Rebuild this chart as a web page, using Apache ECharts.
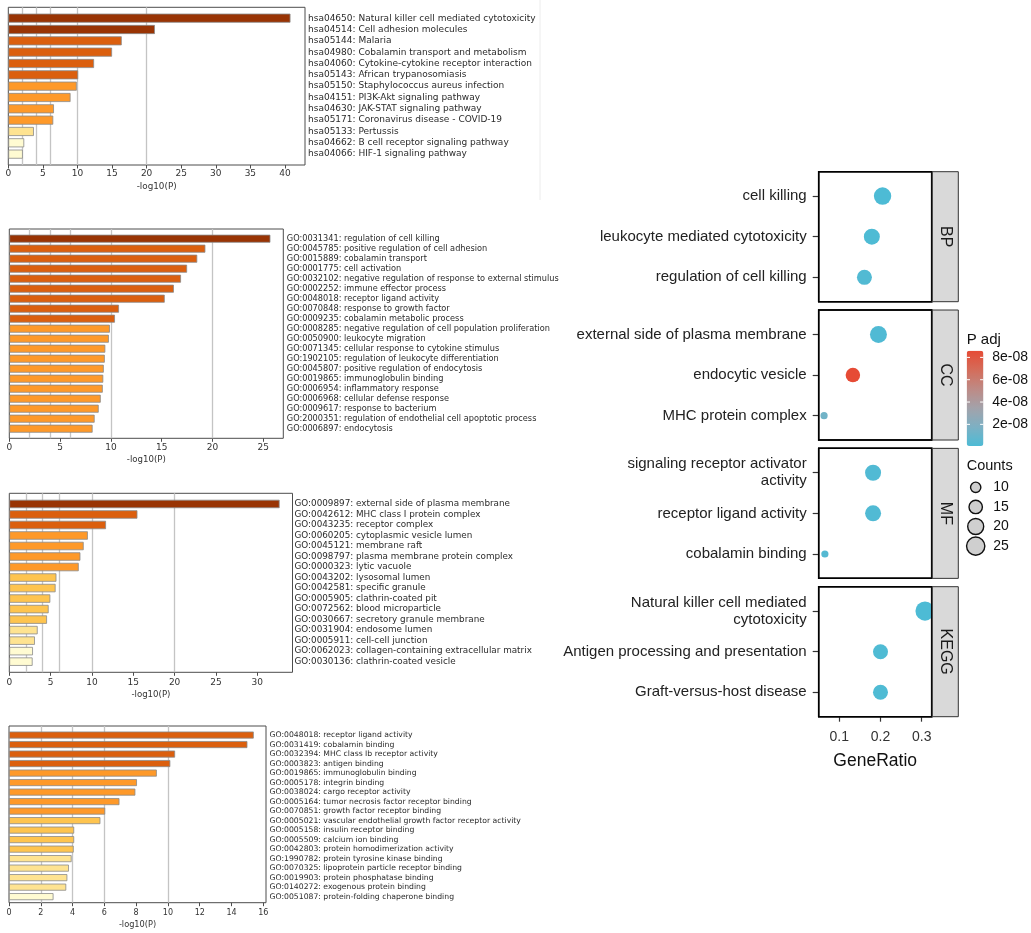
<!DOCTYPE html>
<html><head><meta charset="utf-8">
<script src="https://cdn.jsdelivr.net/npm/echarts@6/dist/echarts.min.js"></script>
<style>html,body{margin:0;padding:0;background:#fff}#c{width:1031px;height:933px}</style>
</head><body><div id="c"></div>
<script>
// ---------------- DATA ----------------
const keggTerms = [
  "hsa04650: Natural killer cell mediated cytotoxicity",
  "hsa04514: Cell adhesion molecules",
  "hsa05144: Malaria",
  "hsa04980: Cobalamin transport and metabolism",
  "hsa04060: Cytokine-cytokine receptor interaction",
  "hsa05143: African trypanosomiasis",
  "hsa05150: Staphylococcus aureus infection",
  "hsa04151: PI3K-Akt signaling pathway",
  "hsa04630: JAK-STAT signaling pathway",
  "hsa05171: Coronavirus disease - COVID-19",
  "hsa05133: Pertussis",
  "hsa04662: B cell receptor signaling pathway",
  "hsa04066: HIF-1 signaling pathway"
];
const keggLogP = [40.8, 21.2, 16.4, 15.0, 12.4, 10.1, 9.9, 9.0, 6.6, 6.5, 3.7, 2.3, 2.1];

const bpTerms = [
  "GO:0031341: regulation of cell killing",
  "GO:0045785: positive regulation of cell adhesion",
  "GO:0015889: cobalamin transport",
  "GO:0001775: cell activation",
  "GO:0032102: negative regulation of response to external stimulus",
  "GO:0002252: immune effector process",
  "GO:0048018: receptor ligand activity",
  "GO:0070848: response to growth factor",
  "GO:0009235: cobalamin metabolic process",
  "GO:0008285: negative regulation of cell population proliferation",
  "GO:0050900: leukocyte migration",
  "GO:0071345: cellular response to cytokine stimulus",
  "GO:1902105: regulation of leukocyte differentiation",
  "GO:0045807: positive regulation of endocytosis",
  "GO:0019865: immunoglobulin binding",
  "GO:0006954: inflammatory response",
  "GO:0006968: cellular defense response",
  "GO:0009617: response to bacterium",
  "GO:2000351: regulation of endothelial cell apoptotic process",
  "GO:0006897: endocytosis"
];
const bpLogP = [25.7, 19.3, 18.5, 17.5, 16.9, 16.2, 15.3, 10.8, 10.4, 9.9, 9.8, 9.45, 9.4, 9.3, 9.25, 9.2, 9.0, 8.8, 8.4, 8.2];

const ccTerms = [
  "GO:0009897: external side of plasma membrane",
  "GO:0042612: MHC class I protein complex",
  "GO:0043235: receptor complex",
  "GO:0060205: cytoplasmic vesicle lumen",
  "GO:0045121: membrane raft",
  "GO:0098797: plasma membrane protein complex",
  "GO:0000323: lytic vacuole",
  "GO:0043202: lysosomal lumen",
  "GO:0042581: specific granule",
  "GO:0005905: clathrin-coated pit",
  "GO:0072562: blood microparticle",
  "GO:0030667: secretory granule membrane",
  "GO:0031904: endosome lumen",
  "GO:0005911: cell-cell junction",
  "GO:0062023: collagen-containing extracellular matrix",
  "GO:0030136: clathrin-coated vesicle"
];
const ccLogP = [32.7, 15.5, 11.7, 9.5, 9.0, 8.6, 8.4, 5.7, 5.6, 4.96, 4.76, 4.56, 3.43, 3.1, 2.86, 2.82];

const mfTerms = [
  "GO:0048018: receptor ligand activity",
  "GO:0031419: cobalamin binding",
  "GO:0032394: MHC class Ib receptor activity",
  "GO:0003823: antigen binding",
  "GO:0019865: immunoglobulin binding",
  "GO:0005178: integrin binding",
  "GO:0038024: cargo receptor activity",
  "GO:0005164: tumor necrosis factor receptor binding",
  "GO:0070851: growth factor receptor binding",
  "GO:0005021: vascular endothelial growth factor receptor activity",
  "GO:0005158: insulin receptor binding",
  "GO:0005509: calcium ion binding",
  "GO:0042803: protein homodimerization activity",
  "GO:1990782: protein tyrosine kinase binding",
  "GO:0070325: lipoprotein particle receptor binding",
  "GO:0019903: protein phosphatase binding",
  "GO:0140272: exogenous protein binding",
  "GO:0051087: protein-folding chaperone binding"
];
const mfLogP = [15.4, 15.0, 10.45, 10.15, 9.3, 8.05, 7.95, 6.95, 6.05, 5.75, 4.1, 4.1, 4.07, 3.94, 3.77, 3.67, 3.6, 2.8];

const logPThresholds = [2, 4, 6, 10, 20];

// Dot plot data
const dotGroups = ["BP", "CC", "MF", "KEGG"];
const bpDotTerms = ["cell killing", "leukocyte mediated cytotoxicity", "regulation of cell killing"];
const bpDotRatio = [0.205, 0.179, 0.161];
const bpDotCount = [23, 20, 18];
const bpDotPadj = [6e-10, 1.1e-9, 2.5e-9];

const ccDotTerms = ["external side of plasma membrane", "endocytic vesicle", "MHC protein complex"];
const ccDotRatio = [0.195, 0.133, 0.063];
const ccDotCount = [22, 17, 6];
const ccDotPadj = [1.8e-9, 8.6e-8, 1.35e-8];

const mfDotTerms = ["signaling receptor activator\nactivity", "receptor ligand activity", "cobalamin binding"];
const mfDotRatio = [0.182, 0.182, 0.065];
const mfDotCount = [20, 20, 6];
const mfDotPadj = [2.0e-9, 2.0e-9, 3.5e-9];

const keggDotTerms = ["Natural killer cell mediated\ncytotoxicity", "Antigen processing and presentation", "Graft-versus-host disease"];
const keggDotRatio = [0.308, 0.2, 0.2];
const keggDotCount = [27, 18, 18];
const keggDotPadj = [6e-10, 1.2e-9, 1.2e-9];

const geneRatioTicks = [0.1, 0.2, 0.3];
const padjTicks = [2e-8, 4e-8, 6e-8, 8e-8];
const padjTickLabels = ["2e-08", "4e-08", "6e-08", "8e-08"];
const countLegend = [10, 15, 20, 25];

// ---------------- LAYOUT / STYLE ----------------
const LEFT_FONT = "'DejaVu Sans', sans-serif";
const RIGHT_FONT = "'Liberation Sans', Arial, sans-serif";

const barPanels = [
  {terms: keggTerms, vals: keggLogP, left: 8.3, right: 305, top: 7.3, bottom: 165, xmax: 42.9, step: 5,
   bandTop: 12.5, bandBottom: 159.8, labelFont: 9, tickFont: 9, labelMargin: 3, tickMargin: 4.5, nameGap: 17, nameFont: 8.8, barW: '80%'},
  {terms: bpTerms, vals: bpLogP, left: 9.3, right: 283.3, top: 229, bottom: 438.3, xmax: 26.97, step: 5,
   bandTop: 233.7, bandBottom: 433.7, labelFont: 8.2, tickFont: 9, labelMargin: 3.5, tickMargin: 4.5, nameGap: 17, nameFont: 8.6, barW: '80%'},
  {terms: ccTerms, vals: ccLogP, left: 9.3, right: 292.5, top: 493.3, bottom: 672.3, xmax: 34.26, step: 5,
   bandTop: 498.7, bandBottom: 666.9, labelFont: 8.8, tickFont: 9, labelMargin: 2, tickMargin: 5.5, nameGap: 18, nameFont: 8.6, barW: '80%'},
  {terms: mfTerms, vals: mfLogP, left: 9, right: 266, top: 726, bottom: 902.7, xmax: 16.17, step: 2,
   bandTop: 730.3, bandBottom: 901.4, labelFont: 7.7, tickFont: 8, labelMargin: 3.6, tickMargin: 6, nameGap: 18, nameFont: 8.2, barW: '74%'}
];

function barColor(v) {
  if (v > 20) return '#993404';
  if (v > 10) return '#DB5F0E';
  if (v > 6) return '#FE9929';
  if (v > 4) return '#FEC44F';
  if (v > 3) return '#FEE391';
  return '#FFFBD2';
}

const dotPanels = [
  {name: dotGroups[0], terms: bpDotTerms, ratio: bpDotRatio, count: bpDotCount, padj: bpDotPadj},
  {name: dotGroups[1], terms: ccDotTerms, ratio: ccDotRatio, count: ccDotCount, padj: ccDotPadj},
  {name: dotGroups[2], terms: mfDotTerms, ratio: mfDotRatio, count: mfDotCount, padj: mfDotPadj},
  {name: dotGroups[3], terms: keggDotTerms, ratio: keggDotRatio, count: keggDotCount, padj: keggDotPadj}
];
const DOT = {left: 818.7, width: 113, top0: 171.7, step: 138.33, height: 130, xmin: 0.05, xmax: 0.3243,
             stripX: 932.3, stripW: 26};
function sizeFor(c) { return 4.35 * Math.sqrt(c) - 3.46; }

const allPadj = dotPanels.reduce((a, p) => a.concat(p.padj), []);
const pMin = Math.min.apply(null, allPadj);
const pMax = Math.max.apply(null, allPadj);
const CB = {left: 966.7, top: 350.7, w: 16.7, h: 95.3};

// ---------------- BUILD ----------------
const grids = [], xAxes = [], yAxes = [], series = [], graphics = [];

barPanels.forEach(p => {
  const ticks = [];
  for (let v = 0; v <= p.xmax + 1e-9; v += p.step) ticks.push(v);
  const gF = grids.length;
  grids.push({left: p.left, top: p.top, width: p.right - p.left, height: p.bottom - p.top,
    show: true, borderColor: '#4d4d4d', borderWidth: 1, backgroundColor: 'transparent'});
  xAxes.push({gridIndex: gF, type: 'value', min: 0, max: p.xmax, interval: p.step,
    axisLine: {show: false},
    axisTick: {show: true, length: 3.5, lineStyle: {color: '#4d4d4d', width: 1}, customValues: ticks},
    axisLabel: {customValues: ticks, fontSize: p.tickFont, color: '#333', fontFamily: LEFT_FONT, margin: p.tickMargin,
      formatter: v => (Math.abs(v / p.step - Math.round(v / p.step)) < 1e-6 ? String(Math.round(v)) : '')},
    splitLine: {show: false},
    name: '-log10(P)', nameLocation: 'middle', nameGap: p.nameGap,
    nameTextStyle: {fontSize: p.nameFont, color: '#333', fontFamily: LEFT_FONT}});
  yAxes.push({gridIndex: gF, type: 'value', min: 0, max: 1, show: false});
  series.push({type: 'scatter', xAxisIndex: gF, yAxisIndex: gF, data: [], silent: true,
    markLine: {silent: true, symbol: ['none', 'none'], z: 1, animation: false,
      label: {show: false}, emphasis: {disabled: true},
      lineStyle: {color: '#c4c4c4', width: 1.3, type: 'solid'},
      data: logPThresholds.filter(t => t < p.xmax).map(t => ({xAxis: t}))}});

  const gB = grids.length;
  grids.push({left: p.left, top: p.bandTop, width: p.right - p.left, height: p.bandBottom - p.bandTop, show: false});
  xAxes.push({gridIndex: gB, type: 'value', min: 0, max: p.xmax, show: false});
  yAxes.push({gridIndex: gB, type: 'category', data: p.terms, inverse: true, position: 'right',
    axisLine: {show: false}, axisTick: {show: false}, splitLine: {show: false},
    axisLabel: {interval: 0, fontSize: p.labelFont, color: '#2b2b2b', fontFamily: LEFT_FONT,
      margin: p.labelMargin, align: 'left'}});
  series.push({type: 'bar', xAxisIndex: gB, yAxisIndex: gB, data: p.vals, barWidth: p.barW, z: 2, silent: true,
    itemStyle: {color: params => barColor(params.value), borderColor: '#8a8a8a', borderWidth: 0.8}});
});

const dotSeriesIdx = [];
dotPanels.forEach((p, i) => {
  const top = DOT.top0 + i * DOT.step;
  const isBottom = i === dotPanels.length - 1;
  const g = grids.length;
  grids.push({left: DOT.left, top: top, width: DOT.width, height: DOT.height,
    show: true, borderColor: '#000', borderWidth: 1.5, backgroundColor: '#fff'});
  xAxes.push({gridIndex: g, type: 'value', min: DOT.xmin, max: DOT.xmax,
    axisLine: {show: false}, splitLine: {show: false},
    axisTick: isBottom ? {show: true, length: 5, lineStyle: {color: '#333', width: 1.2}, customValues: geneRatioTicks} : {show: false},
    axisLabel: isBottom ? {show: true, customValues: geneRatioTicks, fontSize: 14, color: '#333', fontFamily: RIGHT_FONT,
      margin: 13, formatter: v => v.toFixed(1)} : {show: false},
    name: isBottom ? 'GeneRatio' : '', nameLocation: 'middle', nameGap: 35,
    nameTextStyle: {fontSize: 17.5, color: '#111', fontFamily: RIGHT_FONT}});
  const rows = p.terms.map((t, k) => k + 1);
  yAxes.push({gridIndex: g, type: 'value', min: 0.4, max: 3.6, inverse: true,
    axisLine: {show: false}, splitLine: {show: false},
    axisTick: {show: true, length: 6, lineStyle: {color: '#333', width: 1.2}, customValues: rows},
    axisLabel: {show: true, customValues: rows, fontSize: 15, color: '#222', fontFamily: RIGHT_FONT, margin: 12,
      lineHeight: 17, align: 'right', formatter: v => p.terms[Math.round(v) - 1] || ''}});
  dotSeriesIdx.push(series.length);
  series.push({type: 'scatter', xAxisIndex: g, yAxisIndex: g, silent: true, z: 3,
    data: p.terms.map((t, k) => [p.ratio[k], k + 1, p.count[k], p.padj[k]]),
    symbolSize: v => sizeFor(v[2]), itemStyle: {opacity: 1}});

  // frame on top, strip
  graphics.push({type: 'rect', z: 100, silent: true,
    shape: {x: DOT.left, y: top, width: DOT.width, height: DOT.height},
    style: {fill: 'none', stroke: '#000', lineWidth: 1.5}});
  graphics.push({type: 'rect', z: 100, silent: true,
    shape: {x: DOT.stripX, y: top, width: DOT.stripW, height: DOT.height},
    style: {fill: '#D9D9D9', stroke: '#333', lineWidth: 1}});
  graphics.push({type: 'text', z: 101, silent: true, x: DOT.stripX + DOT.stripW / 2, y: top + DOT.height / 2,
    rotation: -Math.PI / 2,
    style: {text: p.name, fill: '#1a1a1a', font: '16px ' + RIGHT_FONT, align: 'center', verticalAlign: 'middle'}});
});

// Colorbar legend
graphics.push({type: 'text', z: 101, silent: true, x: CB.left, y: 340,
  style: {text: 'P adj', fill: '#111', font: '15px ' + RIGHT_FONT, align: 'left', verticalAlign: 'middle'}});
padjTicks.forEach((v, k) => {
  const y = CB.top + (pMax - v) / (pMax - pMin) * CB.h;
  graphics.push({type: 'line', z: 101, silent: true, shape: {x1: CB.left, y1: y, x2: CB.left + 3.3, y2: y},
    style: {stroke: '#fff', lineWidth: 1}});
  graphics.push({type: 'line', z: 101, silent: true, shape: {x1: CB.left + CB.w - 3.3, y1: y, x2: CB.left + CB.w, y2: y},
    style: {stroke: '#fff', lineWidth: 1}});
  graphics.push({type: 'text', z: 101, silent: true, x: 992.3, y: y,
    style: {text: padjTickLabels[k], fill: '#111', font: '14px ' + RIGHT_FONT, align: 'left', verticalAlign: 'middle'}});
});

// Counts legend
graphics.push({type: 'text', z: 101, silent: true, x: CB.left, y: 466,
  style: {text: 'Counts', fill: '#111', font: '14.5px ' + RIGHT_FONT, align: 'left', verticalAlign: 'middle'}});
countLegend.forEach((c, k) => {
  const y = 487.3 + k * 19.6;
  graphics.push({type: 'circle', z: 101, silent: true, shape: {cx: 975.7, cy: y, r: sizeFor(c) / 2},
    style: {fill: '#CFCFCF', stroke: '#111', lineWidth: 1.4}});
  graphics.push({type: 'text', z: 101, silent: true, x: 993.3, y: y,
    style: {text: String(c), fill: '#111', font: '14px ' + RIGHT_FONT, align: 'left', verticalAlign: 'middle'}});
});

// faint crop edge line in the top-left figure
graphics.push({type: 'line', z: 0, silent: true, shape: {x1: 540, y1: 0, x2: 540, y2: 200},
  style: {stroke: '#ececec', lineWidth: 1}});

const chart = echarts.init(document.getElementById('c'), null, {renderer: 'canvas', width: 1031, height: 933});
chart.setOption({
  backgroundColor: '#fff',
  animation: false,
  grid: grids,
  xAxis: xAxes,
  yAxis: yAxes,
  series: series,
  visualMap: [{type: 'continuous', min: pMin, max: pMax, dimension: 3, seriesIndex: dotSeriesIdx,
    inRange: {color: ['#4DBBD5', '#7DB0C3', '#A3A2AA', '#BE8A85', '#D46C5A', '#E64B35']},
    calculable: false, show: true, orient: 'vertical', left: CB.left, top: CB.top,
    itemWidth: CB.w, itemHeight: CB.h, padding: 0, text: null, hoverLink: false}],
  graphic: {elements: graphics}
});
</script>
</body></html>
